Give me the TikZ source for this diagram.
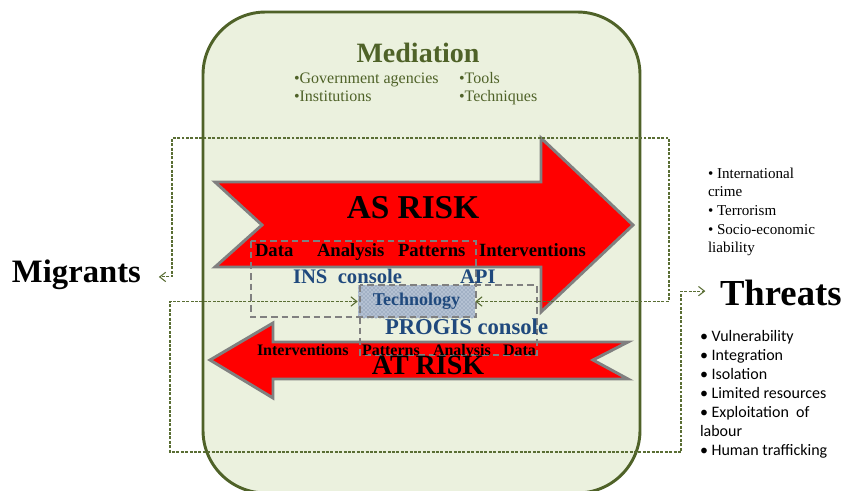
\documentclass[tikz,border=0pt]{standalone}
\usepackage{fontspec}
\setmainfont{Liberation Serif}
\newfontfamily\calibrifont{Carlito}
\usetikzlibrary{arrows.meta,patterns}

\definecolor{medgreen}{HTML}{4F6228}
\definecolor{panelfill}{HTML}{EBF1DE}
\definecolor{linkgreen}{HTML}{5A6E34}
\definecolor{arrowgray}{HTML}{808080}
\definecolor{labelblue}{HTML}{1F497D}
\definecolor{techbg}{HTML}{B4C1D2}
\definecolor{techdot}{HTML}{6A7F9E}

\tikzset{
  panel/.style={draw=medgreen, line width=2.2pt, fill=panelfill, rounded corners=47pt},
  bigarrow/.style={fill=red, draw=arrowgray, line width=2.2pt, line join=miter},
  groupbox/.style={draw=arrowgray, line width=1.5pt, dash pattern=on 5pt off 3pt},
  link/.style={draw=linkgreen, line width=0.8pt, dash pattern=on 2.2pt off 1.1pt,
    {Straight Barb[length=4.5pt,width=7pt]}-{Straight Barb[length=4.5pt,width=7pt]}},
  txt/.style={inner sep=0pt, outer sep=0pt},
  stagetop/.style={txt, anchor=base west, font=\bfseries\fontsize{14}{16}\selectfont},
  stagebot/.style={txt, anchor=base west, font=\bfseries\fontsize{12}{14}\selectfont},
  risk/.style={txt, anchor=base, font=\bfseries\fontsize{25}{28}\selectfont},
  tool/.style={txt, anchor=base west, text=labelblue},
  medlist/.style={txt, anchor=base west, text=medgreen, font=\fontsize{12}{13.5}\selectfont},
  techbox/.style={fill=techbg, postaction={pattern=crosshatch dots, pattern color=techdot},
    minimum width=87.75pt, minimum height=24.75pt, inner sep=0pt,
    text=labelblue, font=\bfseries\fontsize{13.5}{15}\selectfont},
}

\begin{document}
\begin{tikzpicture}[x=0.75pt,y=-0.75pt]
  \clip (0,0) rectangle (846,490);
  \fill[white] (0,0) rectangle (846,490);

  % mediation panel
  \draw[panel] (203,12) rectangle (640,493);

  \node[txt, anchor=base, text=medgreen, font=\bfseries\fontsize{21}{24}\selectfont] (med) at (418,62) {Mediation};
  \node[medlist] (medA) at (294,83) {\vtop{\hbox{•Government agencies}\hbox{•Institutions}}};
  \node[medlist] (medB) at (459,83) {\vtop{\hbox{•Tools}\hbox{•Techniques}}};

  % "as risk" arrow pointing right
  \draw[bigarrow] (215,182) -- (541,182) -- (541,138) -- (633,225) -- (541,312)
        -- (541,267) -- (215,267) -- (262,225) -- cycle;
  % "at risk" arrow pointing left
  \draw[bigarrow] (210,360) -- (273,323) -- (273,342) -- (628,342) -- (593,360)
        -- (628,379) -- (273,379) -- (273,398) -- cycle;

  % technology hub
  \node[techbox] (tech) at (416.5,301.5) {Technology};

  % console groupings
  \draw[groupbox] (251,241) rectangle (476,317);
  \draw[groupbox] (360,285) rectangle (537,355);

  \node[risk] (asrisk) at (413,218) {AS RISK};
  \node[risk, font=\bfseries\fontsize{21}{24}\selectfont] (atrisk) at (428,374) {AT RISK};

  \node[stagetop] (d1) at (255,256) {Data};
  \node[stagetop] (a1) at (317,256) {Analysis};
  \node[stagetop] (p1) at (398,256) {Patterns};
  \node[stagetop] (i1) at (479,256) {Interventions};

  \node[stagebot] (i2) at (257,355) {Interventions};
  \node[stagebot] (p2) at (362,355) {Patterns};
  \node[stagebot] (a2) at (433,355) {Analysis};
  \node[stagebot] (d2) at (503,355) {Data};

  \node[tool, font=\bfseries\fontsize{15.5}{18}\selectfont] (ins) at (293,283) {INS\ \ console};
  \node[tool, font=\bfseries\fontsize{15.5}{18}\selectfont] (api) at (460,283) {API};
  \node[tool, font=\bfseries\fontsize{17}{20}\selectfont] (progis) at (385,334) {PROGIS console};

  % actors
  \node[txt, anchor=base west, font=\bfseries\fontsize{24.5}{28}\selectfont] (mig) at (12,282) {Migrants};
  \node[txt, anchor=base west, font=\bfseries\fontsize{27.5}{30}\selectfont] (thr) at (720,305) {Threats};

  \node[txt, anchor=base west, font=\fontsize{11.3}{14}\selectfont] (risksA) at (708,178)
    {\vtop{\hbox{• International}\hbox{crime}\hbox{• Terrorism}\hbox{• Socio-economic}\hbox{liability}}};
  \node[txt, anchor=base west, font=\calibrifont\fontsize{12}{14.25}\selectfont] (risksB) at (700,341)
    {\vtop{\hbox{• Vulnerability}\hbox{• Integration}\hbox{• Isolation}\hbox{• Limited resources}\hbox{• Exploitation\ \ of}\hbox{labour}\hbox{• Human trafficking}}};

  % feedback links
  \coordinate (rA) at (669,138);
  \coordinate (lA) at (172,138);
  \coordinate (lB) at (170,452);
  \coordinate (rB) at (681,452);
  \draw[link] (tech.east) -- (tech.east -| rA) -- (rA) -- (lA) |- ([xshift=13.5pt,yshift=-2pt]mig.east);
  \draw[link] (tech.west) -- (tech.west -| lB) -- (lB) -- (rB) |- ([xshift=-11pt,yshift=1pt]thr.west);
\end{tikzpicture}
\end{document}
